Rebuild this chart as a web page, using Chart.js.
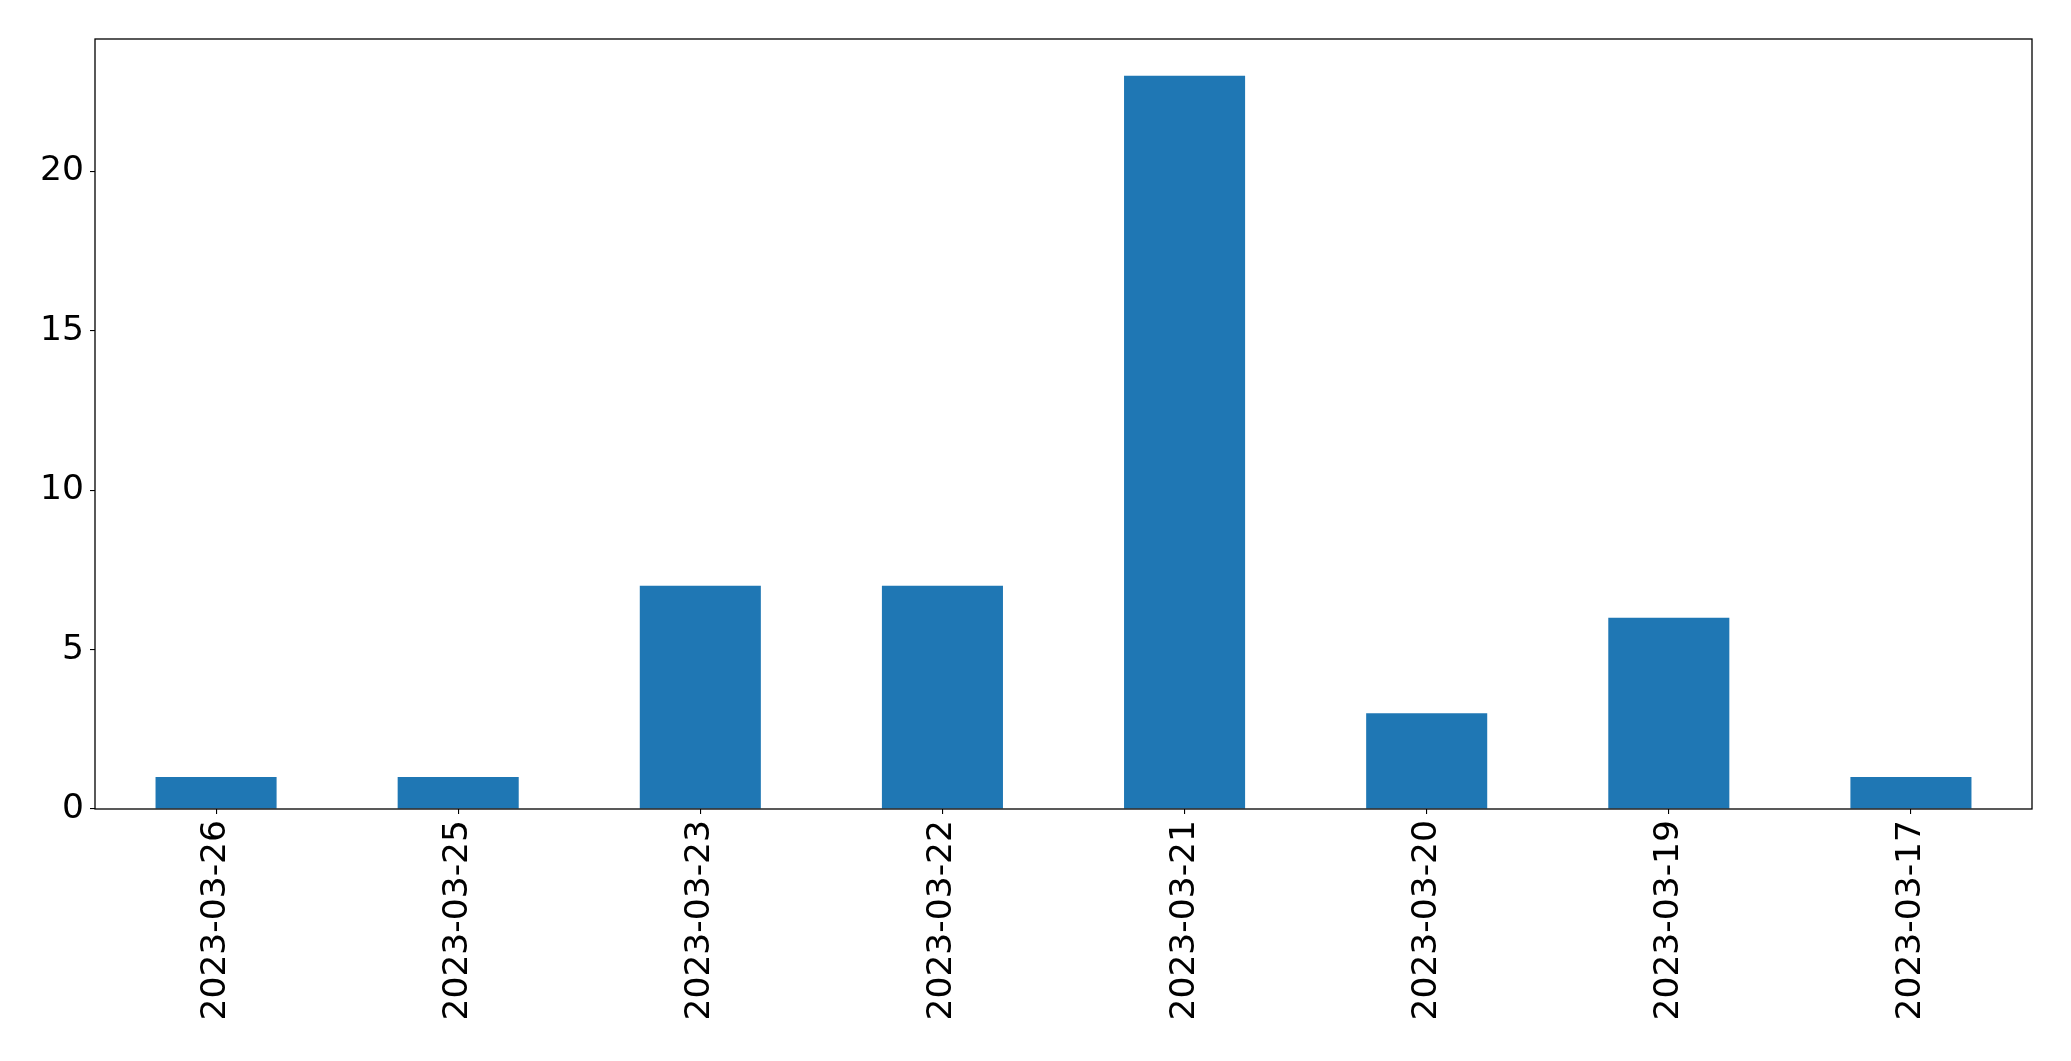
<!DOCTYPE html>
<html>
<head>
<meta charset="utf-8">
<script src="https://cdn.jsdelivr.net/npm/chart.js@4/dist/chart.umd.min.js"></script>
<style>
html,body{margin:0;padding:0;background:#fff;}
canvas{display:block;}
</style>
</head>
<body>
<canvas id="c" width="2071" height="1061"></canvas>
<script>
const categories = ["2023-03-26","2023-03-25","2023-03-23","2023-03-22","2023-03-21","2023-03-20","2023-03-19","2023-03-17"];
const counts = [1, 1, 7, 7, 23, 3, 6, 1];
const yTickStep = 5;

const yMax = Math.max(...counts) * 1.05;

const frame = {
  id: 'frame',
  afterDraw(chart) {
    const {ctx, chartArea: a} = chart;
    ctx.save();
    ctx.strokeStyle = '#000';
    ctx.lineWidth = 1.3;
    ctx.strokeRect(a.left, a.top, a.right - a.left, a.bottom - a.top);
    ctx.restore();
  }
};

new Chart(document.getElementById('c'), {
  type: 'bar',
  data: {
    labels: categories,
    datasets: [{
      data: counts,
      backgroundColor: '#1f77b4',
      borderWidth: 0,
      barPercentage: 0.5,
      categoryPercentage: 1.0
    }]
  },
  options: {
    responsive: false,
    animation: false,
    devicePixelRatio: 1,
    layout: { padding: { top: 39, right: 39, left: 0, bottom: 0 } },
    plugins: { legend: { display: false }, tooltip: { enabled: false } },
    scales: {
      x: {
        offset: true,
        grid: { offset: false, drawOnChartArea: false, drawTicks: true, tickLength: 5, color: '#000', lineWidth: 1.1 },
        border: { display: false },
        ticks: {
          color: '#000',
          font: { family: 'DejaVu Sans', size: 34.5 },
          minRotation: 90, maxRotation: 90,
          autoSkip: false,
          padding: 6
        },
        afterFit(s) { s.height = 252; }
      },
      y: {
        min: 0,
        max: yMax,
        grid: { drawOnChartArea: false, drawTicks: true, tickLength: 5, color: '#000', lineWidth: 1.1 },
        border: { display: false },
        ticks: {
          stepSize: yTickStep,
          includeBounds: false,
          color: '#000',
          font: { family: 'DejaVu Sans', size: 34.5 },
          padding: 6
        },
        afterFit(s) { s.width = 95; }
      }
    }
  },
  plugins: [frame]
});
</script>
</body>
</html>
